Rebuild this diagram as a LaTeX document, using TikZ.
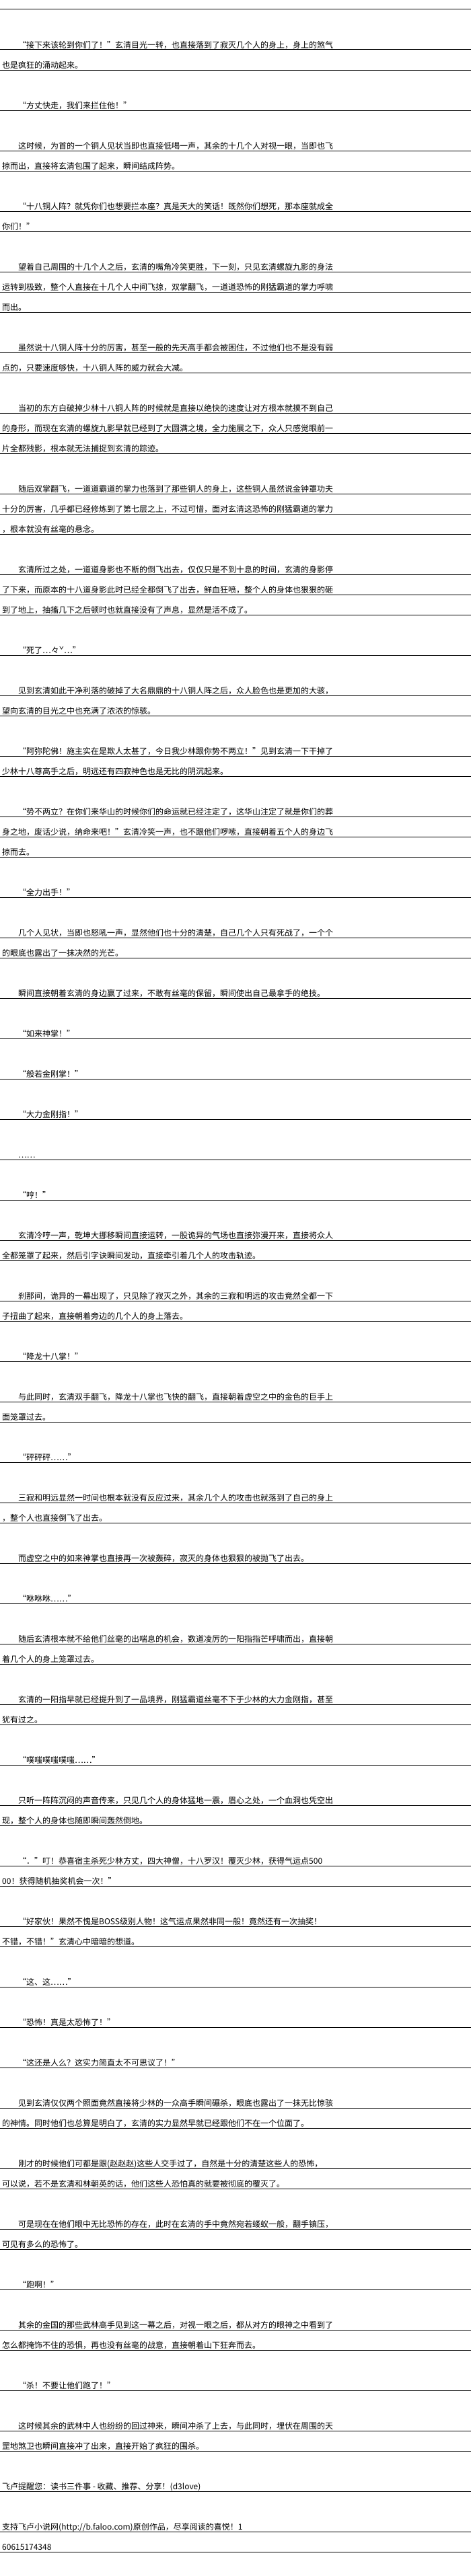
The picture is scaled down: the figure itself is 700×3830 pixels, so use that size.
\documentclass[tikz,border=0pt]{standalone}
\usepackage{fontspec}
\setmainfont{Noto Sans CJK SC}
\XeTeXlinebreaklocale "zh"
\tikzset{txt/.style={anchor=base west,inner sep=0pt,font=\fontsize{12pt}{12pt}\selectfont,text=black},
rul/.style={line width=1pt,black}}
\newcommand\rowtext[4]{\node[txt] (#1) at (#2pt,-#3pt+2.5pt) {#4};\draw[rul] (0pt,-#3pt) -- (700pt,-#3pt);}
\begin{document}
\begin{tikzpicture}
\useasboundingbox (0,0) rectangle (700pt,-3830pt);
\fill[white] (0,0) rectangle (700pt,-3830pt);
\draw[rul] (0pt,-14pt) -- (700pt,-14pt);
\rowtext{a1}{27}{74}{“接下来该轮到你们了！”玄清目光一转，也直接落到了寂灭几个人的身上，身上的煞气}
\rowtext{a2}{3}{104}{也是疯狂的涌动起来。}
\rowtext{b1}{27}{164}{“方丈快走，我们来拦住他！”}
\rowtext{c1}{27}{224}{这时候，为首的一个铜人见状当即也直接低喝一声，其余的十几个人对视一眼，当即也飞}
\rowtext{c2}{3}{254}{掠而出，直接将玄清包围了起来，瞬间结成阵势。}
\rowtext{d1}{27}{314}{“十八铜人阵？就凭你们也想要拦本座？真是天大的笑话！既然你们想死，那本座就成全}
\rowtext{d2}{3}{344}{你们！”}
\rowtext{e1}{27}{404}{望着自己周围的十几个人之后，玄清的嘴角冷笑更胜，下一刻，只见玄清螺旋九影的身法}
\rowtext{e2}{3}{434}{运转到极致，整个人直接在十几个人中间飞掠，双掌翻飞，一道道恐怖的刚猛霸道的掌力呼啸}
\rowtext{e3}{3}{464}{而出。}
\rowtext{f1}{27}{524}{虽然说十八铜人阵十分的厉害，甚至一般的先天高手都会被困住，不过他们也不是没有弱}
\rowtext{f2}{3}{554}{点的，只要速度够快，十八铜人阵的威力就会大减。}
\rowtext{g1}{27}{614}{当初的东方白破掉少林十八铜人阵的时候就是直接以绝快的速度让对方根本就摸不到自己}
\rowtext{g2}{3}{644}{的身形，而现在玄清的螺旋九影早就已经到了大圆满之境，全力施展之下，众人只感觉眼前一}
\rowtext{g3}{3}{674}{片全都残影，根本就无法捕捉到玄清的踪迹。}
\rowtext{h1}{27}{734}{随后双掌翻飞，一道道霸道的掌力也落到了那些铜人的身上，这些铜人虽然说金钟罩功夫}
\rowtext{h2}{3}{764}{十分的厉害，几乎都已经修炼到了第七层之上，不过可惜，面对玄清这恐怖的刚猛霸道的掌力}
\rowtext{h3}{3}{794}{，根本就没有丝毫的悬念。}
\rowtext{i1}{27}{854}{玄清所过之处，一道道身影也不断的倒飞出去，仅仅只是不到十息的时间，玄清的身影停}
\rowtext{i2}{3}{884}{了下来，而原本的十八道身影此时已经全都倒飞了出去，鲜血狂喷，整个人的身体也狠狠的砸}
\rowtext{i3}{3}{914}{到了地上，抽搐几下之后顿时也就直接没有了声息，显然是活不成了。}
\rowtext{j1}{27}{974}{“死了…々ˇ…”}
\rowtext{k1}{27}{1034}{见到玄清如此干净利落的破掉了大名鼎鼎的十八铜人阵之后，众人脸色也是更加的大骇，}
\rowtext{k2}{3}{1064}{望向玄清的目光之中也充满了浓浓的惊骇。}
\rowtext{l1}{27}{1124}{“阿弥陀佛！施主实在是欺人太甚了，今日我少林跟你势不两立！”见到玄清一下干掉了}
\rowtext{l2}{3}{1154}{少林十八尊高手之后，明远还有四寂神色也是无比的阴沉起来。}
\rowtext{m1}{27}{1214}{“势不两立？在你们来华山的时候你们的命运就已经注定了，这华山注定了就是你们的葬}
\rowtext{m2}{3}{1244}{身之地，废话少说，纳命来吧！”玄清冷笑一声，也不跟他们啰嗦，直接朝着五个人的身边飞}
\rowtext{m3}{3}{1274}{掠而去。}
\rowtext{n1}{27}{1334}{“全力出手！”}
\rowtext{o1}{27}{1394}{几个人见状，当即也怒吼一声，显然他们也十分的清楚，自己几个人只有死战了，一个个}
\rowtext{o2}{3}{1424}{的眼底也露出了一抹决然的光芒。}
\rowtext{p1}{27}{1484}{瞬间直接朝着玄清的身边赢了过来，不敢有丝毫的保留，瞬间使出自己最拿手的绝技。}
\rowtext{q1}{27}{1544}{“如来神掌！”}
\rowtext{r1}{27}{1604}{“般若金刚掌！”}
\rowtext{s1}{27}{1664}{“大力金刚指！”}
\rowtext{t1}{27}{1724}{……}
\rowtext{u1}{27}{1784}{“哼！”}
\rowtext{v1}{27}{1844}{玄清冷哼一声，乾坤大挪移瞬间直接运转，一股诡异的气场也直接弥漫开来，直接将众人}
\rowtext{v2}{3}{1874}{全都笼罩了起来，然后引字诀瞬间发动，直接牵引着几个人的攻击轨迹。}
\rowtext{w1}{27}{1934}{刹那间，诡异的一幕出现了，只见除了寂灭之外，其余的三寂和明远的攻击竟然全都一下}
\rowtext{w2}{3}{1964}{子扭曲了起来，直接朝着旁边的几个人的身上落去。}
\rowtext{x1}{27}{2024}{“降龙十八掌！”}
\rowtext{y1}{27}{2084}{与此同时，玄清双手翻飞，降龙十八掌也飞快的翻飞，直接朝着虚空之中的金色的巨手上}
\rowtext{y2}{3}{2114}{面笼罩过去。}
\rowtext{z1}{27}{2174}{“砰砰砰……”}
\rowtext{A1}{27}{2234}{三寂和明远显然一时间也根本就没有反应过来，其余几个人的攻击也就落到了自己的身上}
\rowtext{A2}{3}{2264}{，整个人也直接倒飞了出去。}
\rowtext{B1}{27}{2324}{而虚空之中的如来神掌也直接再一次被轰碎，寂灭的身体也狠狠的被抛飞了出去。}
\rowtext{C1}{27}{2384}{“咻咻咻……”}
\rowtext{D1}{27}{2444}{随后玄清根本就不给他们丝毫的出喘息的机会，数道凌厉的一阳指指芒呼啸而出，直接朝}
\rowtext{D2}{3}{2474}{着几个人的身上笼罩过去。}
\rowtext{E1}{27}{2534}{玄清的一阳指早就已经提升到了一品境界，刚猛霸道丝毫不下于少林的大力金刚指，甚至}
\rowtext{E2}{3}{2564}{犹有过之。}
\rowtext{F1}{27}{2624}{“噗嗤噗嗤噗嗤……”}
\rowtext{G1}{27}{2684}{只听一阵阵沉闷的声音传来，只见几个人的身体猛地一震，眉心之处，一个血洞也凭空出}
\rowtext{G2}{3}{2714}{现，整个人的身体也随即瞬间轰然倒地。}
\rowtext{H1}{27}{2774}{“．”叮！恭喜宿主杀死少林方丈，四大神僧，十八罗汉！覆灭少林，获得气运点500}
\rowtext{H2}{3}{2804}{00！获得随机抽奖机会一次！”}
\rowtext{I1}{27}{2864}{“好家伙！果然不愧是BOSS级别人物！这气运点果然非同一般！竟然还有一次抽奖！}
\rowtext{I2}{3}{2894}{不错，不错！”玄清心中暗暗的想道。}
\rowtext{J1}{27}{2954}{“这、这……”}
\rowtext{K1}{27}{3014}{“恐怖！真是太恐怖了！”}
\rowtext{L1}{27}{3074}{“这还是人么？这实力简直太不可思议了！”}
\rowtext{M1}{27}{3134}{见到玄清仅仅两个照面竟然直接将少林的一众高手瞬间碾杀，眼底也露出了一抹无比惊骇}
\rowtext{M2}{3}{3164}{的神情。同时他们也总算是明白了，玄清的实力显然早就已经跟他们不在一个位面了。}
\rowtext{N1}{27}{3224}{刚才的时候他们可都是跟(赵赵赵)这些人交手过了，自然是十分的清楚这些人的恐怖，}
\rowtext{N2}{3}{3254}{可以说，若不是玄清和林朝英的话，他们这些人恐怕真的就要被彻底的覆灭了。}
\rowtext{O1}{27}{3314}{可是现在在他们眼中无比恐怖的存在，此时在玄清的手中竟然宛若蝼蚁一般，翻手镇压，}
\rowtext{O2}{3}{3344}{可见有多么的恐怖了。}
\rowtext{P1}{27}{3404}{“跑啊！”}
\rowtext{Q1}{27}{3464}{其余的金国的那些武林高手见到这一幕之后，对视一眼之后，都从对方的眼神之中看到了}
\rowtext{Q2}{3}{3494}{怎么都掩饰不住的恐惧，再也没有丝毫的战意，直接朝着山下狂奔而去。}
\rowtext{R1}{27}{3554}{“杀！不要让他们跑了！”}
\rowtext{S1}{27}{3614}{这时候其余的武林中人也纷纷的回过神来，瞬间冲杀了上去，与此同时，埋伏在周围的天}
\rowtext{S2}{3}{3644}{罡地煞卫也瞬间直接冲了出来，直接开始了疯狂的围杀。}
\rowtext{T1}{3}{3704}{飞卢提醒您：读书三件事 - 收藏、推荐、分享！(d3love)}
\rowtext{U1}{3}{3764}{支持飞卢小说网(http://b.faloo.com)原创作品，尽享阅读的喜悦！1}
\rowtext{V1}{3}{3794}{60615174348}
\end{tikzpicture}
\end{document}
